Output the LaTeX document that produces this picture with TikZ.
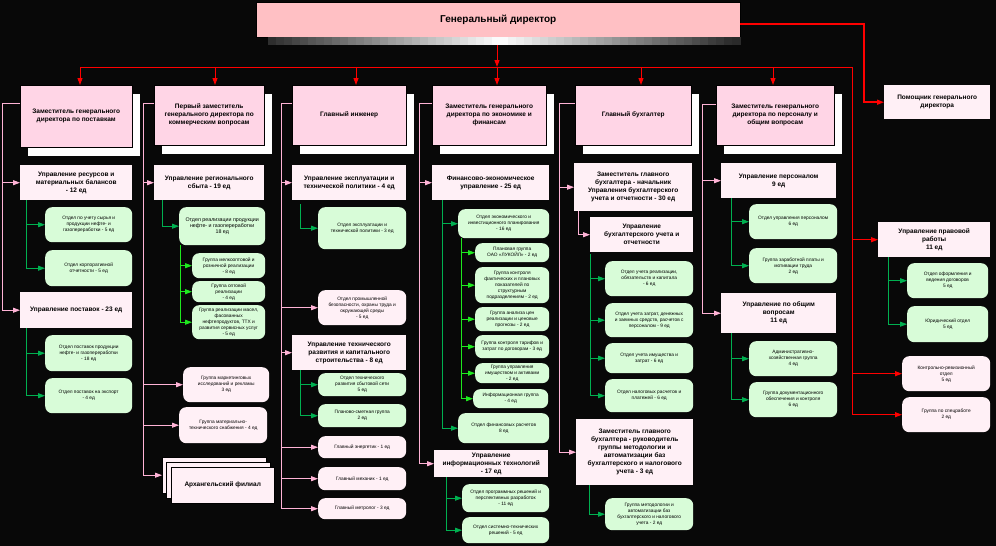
\documentclass[tikz,border=0pt]{standalone}
\usepackage{fontspec}
\setmainfont{Liberation Sans}
\usetikzlibrary{arrows.meta,shadows}

\definecolor{bgblack}{HTML}{080808}
\definecolor{bardark}{HTML}{2A2A2A}
\definecolor{gdpink}{HTML}{FFC0C4}
\definecolor{headpink}{HTML}{FFD5E6}
\definecolor{subpink}{HTML}{FFF0F6}
\definecolor{boxgreen}{HTML}{D8FCD8}
\definecolor{linepink}{HTML}{FFB3D6}
\definecolor{linegreen}{HTML}{00B050}
\definecolor{litegreen}{HTML}{1EE81E}
\definecolor{linered}{HTML}{FF0000}

\newcommand{\hdfont}{\fontsize{6.5}{8}\selectfont\bfseries}
\newcommand{\smfont}{\fontsize{4.8}{6}\selectfont}

\tikzset{
  sz/.style 2 args={minimum width=#1pt, minimum height=#2pt},
  hd/.style={draw=black, fill=headpink, font=\hdfont, align=center, anchor=north west, inner sep=1pt,
    general shadow={fill=white, shadow xshift=8pt, shadow yshift=-9pt}},
  sub/.style={fill=subpink, font=\hdfont, align=center, anchor=north west, inner sep=1pt},
  sheet/.style={draw=black, fill=subpink, font=\hdfont, align=center, anchor=north west, inner sep=1pt},
  gbox/.style={fill=boxgreen, rounded corners=7pt, font=\smfont, align=center, anchor=north west, inner sep=1pt},
  pbox/.style={fill=subpink, rounded corners=7pt, font=\smfont, align=center, anchor=north west, inner sep=1pt},
  tip/.style={-{Triangle[length=7pt,width=5pt]}},
  pk/.style={draw=linepink, line width=0.8pt},
  gr/.style={draw=linegreen, line width=0.8pt, tip},
  lg/.style={draw=litegreen, line width=0.8pt, tip},
  rd/.style={draw=linered, line width=1pt},
}

\begin{document}
\begin{tikzpicture}[x=1pt,y=-1pt]
    \fill[bgblack] (0,0) rectangle (996,546);
    \useasboundingbox (0,0) rectangle (996,546);

    % top
    \node[draw=black, fill=gdpink, anchor=north west, sz={484}{35}, font=\fontsize{10}{12}\selectfont\bfseries] (gd) at (256,2) {Генеральный директор};
    \foreach \i in {0,...,58} {
        \pgfmathtruncatemacro\p{max(0,100-abs(272+8*\i-500)/2.35)}
        \fill[white!\p!bardark] (268+8*\i,37) rectangle (276.5+8*\i,45);
    }
    \node[anchor=north west, sz={472}{8}, inner sep=0pt] (gbar) at (268,37) {};
    \coordinate (busL) at (80,67);
    \coordinate (busM) at (497,67);
    \coordinate (busR) at (852,67);
    \coordinate (rv2) at (864,0);
    \draw[rd, tip] (busM |- gbar.south) -- (busM);
    \draw[rd] (busL) -- (busR);

    % heads
    \node[hd, sz={112}{62}] (h1) at (20,85) {Заместитель генерального\\директора по поставкам};
    \node[hd, sz={110}{60}] (h2) at (154,85) {Первый заместитель\\генерального директора по\\коммерческим вопросам};
    \node[hd, sz={114}{60}] (h3) at (292,85) {Главный инженер};
    \node[hd, sz={114}{60}] (h4) at (432,85) {Заместитель генерального\\директора по экономике и\\финансам};
    \node[hd, sz={116}{60}] (h5) at (575,85) {Главный бухгалтер};
    \node[hd, sz={118}{60}] (h6) at (716,85) {Заместитель генерального\\директора по персоналу и\\общим вопросам};
    \node[sub, sz={106}{34}] (as) at (884,85) {Помощник генерального\\директора};

    \coordinate (a1) at (80,67);
    \coordinate (a2) at (215,67);
    \coordinate (a3) at (356,67);
    \coordinate (a4) at (497,67);
    \coordinate (a5) at (641,67);
    \coordinate (a6) at (773,67);
    \draw[rd, tip] (a1) -- (a1 |- h1.north);
    \draw[rd, tip] (a2) -- (a2 |- h2.north);
    \draw[rd, tip] (a3) -- (a3 |- h3.north);
    \draw[rd, tip] (a4) -- (a4 |- h4.north);
    \draw[rd, tip] (a5) -- (a5 |- h5.north);
    \draw[rd, tip] (a6) -- (a6 |- h6.north);
    \draw[rd, line width=1.5pt, tip] ([yshift=-4.5pt]gd.east) -| (rv2 |- as.west) -- (as.west);

    % column 1
    \node[sub, sz={112}{35}] (r1) at (20,165) {Управление ресурсов и\\материальных балансов\\- 12 ед};
    \node[gbox, sz={87}{35}] (g11) at (45,207) {Отдел по учету сырья и\\продукции нефте- и\\газопереработки - 5 ед};
    \node[gbox, sz={87}{36}] (g12) at (45,250) {Отдел корпоративной\\отчетности - 5 ед};
    \node[sub, sz={112}{36}] (r2) at (20,292) {Управление поставок - 23 ед};
    \node[gbox, sz={87}{36}] (g21) at (45,335) {Отдел поставок продукции\\нефте- и газопереработки\\- 18 ед};
    \node[gbox, sz={87}{35}] (g22) at (45,378) {Отдел поставок на экспорт\\- 4 ед};

    \coordinate (fd1) at (2,0);
    \draw[pk] ([yshift=-18pt]h1.north west) -| (fd1 |- r2.west);
    \draw[pk, tip] (fd1 |- r1.west) -- (r1.west);
    \draw[pk, tip] (fd1 |- r2.west) -- (r2.west);
    \draw[gr] ([xshift=6pt]r1.south west) |- (g11.west);
    \draw[gr] ([xshift=6pt]r1.south west) |- (g12.west);
    \draw[gr] ([xshift=6pt]r2.south west) |- (g21.west);
    \draw[gr] ([xshift=6pt]r2.south west) |- (g22.west);

    % column 2
    \node[sub, sz={110}{35}] (r3) at (154,165) {Управление регионального\\сбыта - 19 ед};
    \node[gbox, sz={86}{38}, font=\fontsize{5.3}{6.3}\selectfont] (g31) at (179,207) {Отдел реализации продукции\\нефте- и газопереработки\\18 ед};
    \node[gbox, sz={73}{25}] (g32) at (192,253) {Группа мелкооптовой и\\розничной реализации\\- 8 ед};
    \node[gbox, sz={73}{21}] (g33) at (192,281) {Группа оптовой\\реализации\\- 4 ед};
    \node[gbox, sz={73}{34}] (g34) at (192,305) {Группа реализации масел,\\фасованных\\нефтепродуктов, ТТХ и\\развития сервисных услуг\\- 5 ед};
    \node[pbox, sz={86}{35}] (p31) at (183,367) {Группа маркетинговых\\исследований и рекламы\\3 ед};
    \node[pbox, sz={88}{36}] (p32) at (179,407) {Группа материально-\\технического снабжения - 4 ед};
    \node[sheet, sz={104}{36}] (ar1) at (162,457) {};
    \node[sheet, sz={104}{36}] (ar2) at (166,462) {};
    \node[sheet, sz={103}{36}] (ar3) at (171,467) {Архангельский филиал};

    \coordinate (fd2) at (143,0);
    \draw[pk] ([yshift=-18pt]h2.north west) -| (fd2 |- ar1.west);
    \draw[pk, tip] (fd2 |- r3.west) -- (r3.west);
    \draw[pk, tip] (fd2 |- p31.west) -- (p31.west);
    \draw[pk, tip] (fd2 |- p32.west) -- (p32.west);
    \draw[pk, tip] (fd2 |- ar1.west) -- (ar1.west);
    \draw[gr] ([xshift=8pt]r3.south west) |- (g31.west);
    \draw[lg] ([xshift=1pt]g31.south west) |- (g32.west);
    \draw[lg] ([xshift=1pt]g31.south west) |- (g33.west);
    \draw[lg] ([xshift=1pt]g31.south west) |- (g34.west);

    % column 3
    \node[sub, sz={114}{35}] (r4) at (292,165) {Управление эксплуатации и\\технической политики - 4 ед};
    \node[gbox, sz={88}{42}] (g41) at (318,207) {Отдел эксплуатации и\\технической политики - 3 ед};
    \node[pbox, sz={88}{35}] (p41) at (318,290) {Отдел промышленной\\безопасности, охраны труда и\\окружающей среды\\- 5 ед};
    \node[sub, sz={114}{35}] (r5) at (292,335) {Управление технического\\развития и капитального\\строительства - 8 ед};
    \node[gbox, sz={88}{23}] (g51) at (318,373) {Отдел технического\\развития сбытовой сети\\5 ед};
    \node[gbox, sz={88}{23}] (g52) at (318,404) {Планово-сметная группа\\2 ед};
    \node[pbox, sz={88}{22}] (p51) at (318,436) {Главный энергетик - 1 ед};
    \node[pbox, sz={88}{23}] (p52) at (318,467) {Главный механик - 1 ед};
    \node[pbox, sz={88}{21}] (p53) at (318,498) {Главный метролог - 3 ед};

    \coordinate (fd3) at (281,0);
    \draw[pk] ([yshift=-18pt]h3.north west) -| (fd3 |- p53.west);
    \draw[pk, tip] (fd3 |- r4.west) -- (r4.west);
    \draw[pk, tip] (fd3 |- p41.west) -- (p41.west);
    \draw[pk, tip] (fd3 |- r5.west) -- (r5.west);
    \draw[pk, tip] (fd3 |- p51.west) -- (p51.west);
    \draw[pk, tip] (fd3 |- p52.west) -- (p52.west);
    \draw[pk, tip] (fd3 |- p53.west) -- (p53.west);
    \draw[gr] ([xshift=8pt,yshift=-4pt]r4.south west) |- (g41.west);
    \draw[gr] ([xshift=8pt]r5.south west) |- (g51.west);
    \draw[gr] ([xshift=8pt]r5.south west) |- (g52.west);

    % column 4
    \node[sub, sz={117}{35}] (r6) at (432,165) {Финансово-экономическое\\управление - 25 ед};
    \node[gbox, sz={91}{29}] (g61) at (458,209) {Отдел экономического и\\инвестиционного планирования\\- 16 ед};
    \node[gbox, sz={74}{19}] (g62) at (475,243) {Плановая группа\\ОАО «ЛУКОЙЛ» - 2 ед};
    \node[gbox, sz={74}{36}] (g63) at (475,267) {Группа контроля\\фактических и плановых\\показателей по\\структурным\\подразделениям - 2 ед};
    \node[gbox, sz={74}{24}] (g64) at (475,307) {Группа анализа цен\\реализации и ценовые\\прогнозы - 2 ед};
    \node[gbox, sz={74}{23}] (g65) at (475,335) {Группа контроля тарифов и\\затрат по договорам - 3 ед};
    \node[gbox, sz={74}{20}] (g66) at (475,363) {Группа управления\\имуществом и активами\\- 2 ед};
    \node[gbox, sz={75}{19}] (g67) at (473,389) {Информационная группа\\- 4 ед};
    \node[gbox, sz={91}{30}] (g68) at (458,413) {Отдел финансовых расчетов\\8 ед};
    \node[sub, sz={114}{27}] (r7) at (434,450) {Управление\\информационных технологий\\- 17 ед};
    \node[gbox, sz={87}{28}] (g71) at (462,484) {Отдел программных решений и\\перспективных разработок\\- 11 ед};
    \node[gbox, sz={87}{26}] (g72) at (462,517) {Отдел системно-технических\\решений - 5 ед};

    \coordinate (fd4) at (419,0);
    \draw[pk] ([yshift=-18pt]h4.north west) -| (fd4 |- r7.west);
    \draw[pk, tip] (fd4 |- r6.west) -- (r6.west);
    \draw[pk, tip] (fd4 |- r7.west) -- (r7.west);
    \draw[gr] ([xshift=10pt]r6.south west) |- (g61.west);
    \draw[gr] ([xshift=10pt]r6.south west) |- (g68.west);
    \draw[lg] ([xshift=3pt]g61.south west) |- (g62.west);
    \draw[lg] ([xshift=3pt]g61.south west) |- (g63.west);
    \draw[lg] ([xshift=3pt]g61.south west) |- (g64.west);
    \draw[lg] ([xshift=3pt]g61.south west) |- (g65.west);
    \draw[lg] ([xshift=3pt]g61.south west) |- (g66.west);
    \draw[lg] ([xshift=3pt]g61.south west) |- (g67.west);
    \draw[gr] ([xshift=12pt]r7.south west) |- (g71.west);
    \draw[gr] ([xshift=12pt]r7.south west) |- (g72.west);

    % column 5
    \node[sub, sz={118}{48}] (r8) at (574,163) {Заместитель главного\\бухгалтера - начальник\\Управления бухгалтерского\\учета и отчетности - 30 ед};
    \node[sub, sz={103}{35}] (r9) at (590,217) {Управление\\бухгалтерского учета и\\отчетности};
    \node[gbox, sz={88}{35}] (g91) at (605,261) {Отдел учета реализации,\\обязательств и капитала\\- 6 ед};
    \node[gbox, sz={88}{34}] (g92) at (605,303) {Отдел учета затрат, денежных\\и заемных средств, расчетов с\\персоналом - 9 ед};
    \node[gbox, sz={88}{30}] (g93) at (605,343) {Отдел учета имущества и\\затрат - 6 ед};
    \node[gbox, sz={88}{33}] (g94) at (605,379) {Отдел налоговых расчетов и\\платежей - 6 ед};
    \node[sub, sz={117}{66}] (r10) at (576,419) {Заместитель главного\\бухгалтера - руководитель\\группы методологии и\\автоматизации баз\\бухгалтерского и налогового\\учета - 3 ед};
    \node[gbox, sz={88}{32}] (g101) at (605,498) {Группа методологии и\\автоматизации баз\\бухгалтерского и налогового\\учета - 2 ед};

    \coordinate (fd5) at (559,0);
    \draw[pk] ([yshift=-18pt]h5.north west) -| (fd5 |- r10.west);
    \draw[pk, tip] (fd5 |- r8.west) -- (r8.west);
    \draw[pk, tip] (fd5 |- r10.west) -- (r10.west);
    \draw[pk, tip] ([xshift=4pt]r8.south west) |- (r9.west);
    \draw[gr] ([yshift=-2pt]r9.south west) |- (g91.west);
    \draw[gr] ([yshift=-2pt]r9.south west) |- (g92.west);
    \draw[gr] ([yshift=-2pt]r9.south west) |- (g93.west);
    \draw[gr] ([yshift=-2pt]r9.south west) |- (g94.west);
    \draw[gr] ([xshift=13pt]r10.south west) |- (g101.west);

    % column 6
    \node[sub, sz={115}{35}] (r11) at (721,163) {Управление персоналом\\9 ед};
    \node[gbox, sz={88}{35}] (g111) at (749,204) {Отдел управления персоналом\\6 ед};
    \node[gbox, sz={88}{35}] (g112) at (749,248) {Группа заработной платы и\\мотивации труда\\2 ед};
    \node[sub, sz={115}{40}] (r12) at (721,293) {Управление по общим\\вопросам\\11 ед};
    \node[gbox, sz={88}{35}] (g121) at (749,341) {Административно-\\хозяйственная группа\\4 ед};
    \node[gbox, sz={88}{35}] (g122) at (749,382) {Группа документационного\\обеспечения и контроля\\6 ед};

    \coordinate (fd6) at (702,0);
    \draw[pk] ([yshift=-19pt]h6.north west) -| (fd6 |- r12.west);
    \draw[pk, tip] (fd6 |- r11.west) -- (r11.west);
    \draw[pk, tip] (fd6 |- r12.west) -- (r12.west);
    \draw[gr] ([xshift=10pt]r11.south west) |- (g111.west);
    \draw[gr] ([xshift=10pt]r11.south west) |- (g112.west);
    \draw[gr] ([xshift=10pt]r12.south west) |- (g121.west);
    \draw[gr] ([xshift=10pt]r12.south west) |- (g122.west);

    % column 7
    \node[sub, sz={112}{35}] (r13) at (878,222) {Управление правовой\\работы\\11 ед};
    \node[gbox, sz={81}{35}] (g131) at (907,263) {Отдел оформления и\\ведения договоров\\5 ед};
    \node[gbox, sz={81}{36}] (g132) at (907,306) {Юридический отдел\\5 ед};
    \node[pbox, sz={88}{35}] (p131) at (902,356) {Контрольно-ревизионный\\отдел\\5 ед};
    \node[pbox, sz={88}{35}] (p132) at (902,397) {Группа по спецработе\\2 ед};

    \draw[rd] (busR) -- (busR |- p132.west);
    \draw[rd, tip] (busR |- r13.west) -- (r13.west);
    \draw[rd, tip] (busR |- p131.west) -- (p131.west);
    \draw[rd, tip] (busR |- p132.west) -- (p132.west);
    \draw[gr] ([xshift=10pt]r13.south west) |- (g131.west);
    \draw[gr] ([xshift=10pt]r13.south west) |- (g132.west);
\end{tikzpicture}
\end{document}
